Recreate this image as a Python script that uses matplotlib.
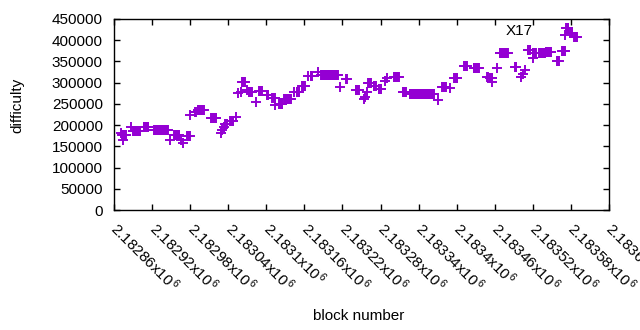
import numpy as np
import matplotlib
matplotlib.use('Agg')
import matplotlib.pyplot as plt
from matplotlib.ticker import FixedLocator

plt.rcParams['font.family'] = ['Liberation Sans', 'DejaVu Sans']
plt.rcParams['mathtext.fontset'] = 'custom'
plt.rcParams['mathtext.rm'] = 'Liberation Sans'
plt.rcParams['mathtext.it'] = 'Liberation Sans'

# runs of blocks with the same difficulty (first block, last block, difficulty)
run_start = [2182873, 2182890, 2182907, 2182923, 2182955, 2182975, 2182988,
             2182992, 2183013, 2183035, 2183043, 2183062, 2183072, 2183089,
             2183101, 2183109, 2183120, 2183128, 2183148, 2183157, 2183170,
             2183186, 2183226, 2183241, 2183261, 2183269, 2183277, 2183301,
             2183315, 2183326, 2183377, 2183396, 2183412, 2183427, 2183448,
             2183452, 2183468, 2183492, 2183512, 2183520, 2183530, 2183540,
             2183558, 2183566, 2183573, 2183579, 2183585]
run_end = [2182879, 2182901, 2182914, 2182945, 2182963, 2182979, 2182989,
           2183002, 2183021, 2183038, 2183048, 2183066, 2183077, 2183093,
           2183103, 2183113, 2183125, 2183139, 2183152, 2183161, 2183172,
           2183213, 2183227, 2183246, 2183265, 2183273, 2183281, 2183309,
           2183319, 2183364, 2183383, 2183401, 2183416, 2183435, 2183449,
           2183456, 2183481, 2183494, 2183516, 2183525, 2183539, 2183549,
           2183561, 2183570, 2183576, 2183582, 2183589]
run_diff = [177000, 185000, 195500, 187500, 176700, 175000, 230000,
            236000, 216700, 203000, 210000, 302000, 278000, 281000,
            272000, 263000, 249000, 261500, 279000, 292000, 315700,
            319000, 308600, 282700, 300000, 292000, 285000, 314000,
            277000, 273000, 290500, 311000, 339000, 334500, 314500,
            310000, 369000, 337600, 377000, 370000, 369000, 373000,
            352000, 374500, 428000, 417000, 408000]

# single blocks
point_block = [2182871, 2182874, 2182886, 2182949, 2182966, 2182969, 2182980,
               2183029, 2183030, 2183033, 2183053, 2183056, 2183060, 2183070,
               2183083, 2183114, 2183143, 2183166, 2183181, 2183216, 2183254,
               2183256, 2183258, 2183287, 2183290, 2183320, 2183370, 2183389,
               2183455, 2183463, 2183502, 2183505, 2183508, 2183521, 2183571]
point_diff = [180700, 166000, 195000, 165000, 165000, 157000, 224000,
              181000, 188000, 195000, 220000, 275000, 277000, 283000,
              255000, 247000, 279000, 315000, 326000, 290000, 262000,
              267000, 279000, 305000, 312000, 278000, 259000, 287000,
              302000, 334000, 314000, 320000, 330000, 357000, 412000]

xtick_values = [2182860 + 60 * i for i in range(14)]
xtick_mant = ['2.18286', '2.18292', '2.18298', '2.18304', '2.1831', '2.18316',
              '2.18322', '2.18328', '2.18334', '2.1834', '2.18346', '2.18352',
              '2.18358', '2.18364']

blocks = []
diffs = []
for s, e, d in zip(run_start, run_end, run_diff):
    for b in range(s, e + 1):
        blocks.append(b)
        diffs.append(d)
blocks += point_block
diffs += point_diff

fig = plt.figure(figsize=(6.4, 3.3), dpi=100)
ax = fig.add_axes([114 / 640, 1 - 210 / 330, (609 - 114) / 640, (210 - 19) / 330])

ax.plot(blocks, diffs, '+', color='#9400d3', ms=6.5, mew=1.4, linestyle='none')

ax.set_xlim(2182860, 2183640)
ax.set_ylim(0, 450000)
ax.set_yticks(range(0, 450001, 50000))
ax.set_yticklabels([str(v) for v in range(0, 450001, 50000)], fontsize=11)
ax.xaxis.set_major_locator(FixedLocator(xtick_values))
ax.set_xticklabels([m + r'x10$^{\,6}$' for m in xtick_mant], fontsize=11,
                   rotation=-45, ha='left', va='center', rotation_mode='anchor')

ax.tick_params(direction='in', length=4, width=1, top=True, right=True)
ax.tick_params(axis='y', pad=8)
ax.tick_params(axis='x', pad=11)
for sp in ax.spines.values():
    sp.set_linewidth(1)

ax.set_xlabel('block number', fontsize=11)
ax.set_ylabel('difficulty', fontsize=11)
ax.text(2183498, 421700, 'X17', fontsize=11, ha='center', va='center')

ax.xaxis.set_label_coords((359 - 114) / 495, -(316 - 210) / 191)
ax.xaxis.label.set_va('center')
ax.yaxis.set_label_coords((17 - 114) / 495, (210 - 105) / 191)
ax.yaxis.label.set_va('center')

fig.savefig('out.png', dpi=100)
